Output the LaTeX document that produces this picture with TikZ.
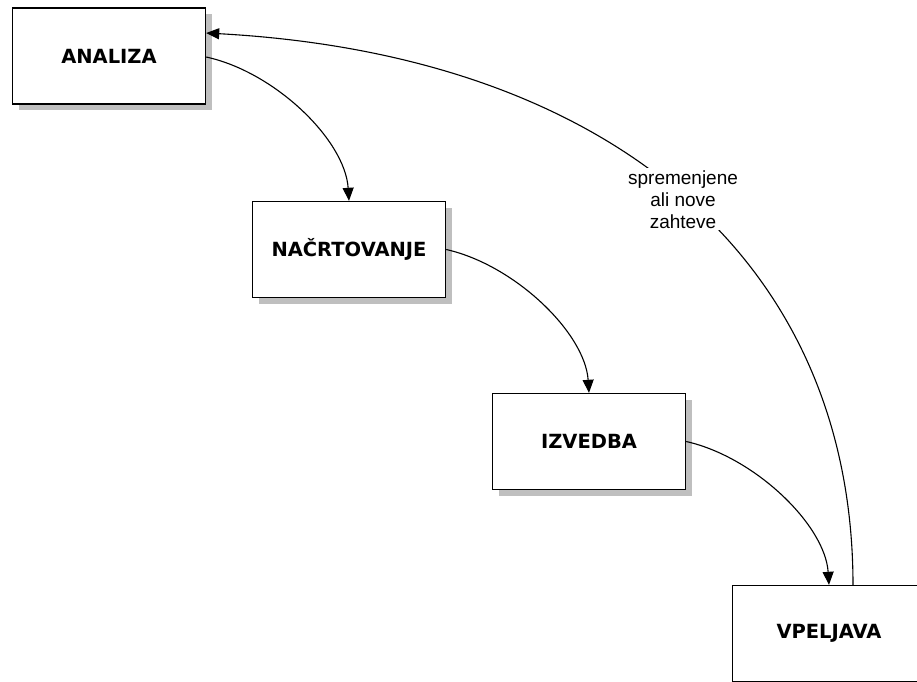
\documentclass[tikz,border=0pt]{standalone}
\usepackage{fontspec}
\setmainfont{Liberation Sans}
\newfontfamily\boxfont{DejaVu Sans}
\usetikzlibrary{arrows.meta,shadows}
\begin{document}
\begin{tikzpicture}[x=1pt,y=-1pt,
  phase/.style={draw=black, line width=1.4pt, fill=white, minimum width=193pt, minimum height=96pt,
    inner sep=0pt, font=\boxfont\bfseries\fontsize{19.5}{22}\selectfont,
    drop shadow={shadow xshift=6pt, shadow yshift=-6pt, fill=black!25, opacity=1}},
  flow/.style={line width=1.1pt, -{Triangle[length=13pt,width=11pt]}},
  note/.style={fill=white, align=center, inner sep=2pt, font=\fontsize{19}{22}\selectfont}]
  \useasboundingbox (0,0) rectangle (917,681);
  \node[phase] (analiza) at (109,56) {ANALIZA};
  \node[phase] (nacrt) at (349,249.5) {NAČRTOVANJE};
  \node[phase] (izvedba) at (589,441.5) {IZVEDBA};
  \node[phase] (vpeljava) at (829,633.5) {VPELJAVA};
  % forward steps of the process
  \draw[flow] (analiza.east |- 0,57) .. controls (275,72) and (345,140) .. (nacrt.north);
  \draw[flow] (nacrt.east) .. controls (515,265) and (585,333) .. (izvedba.north);
  \draw[flow] (izvedba.east) .. controls (755,457) and (825,525) .. (vpeljava.north);
  % feedback loop with changed requirements
  \coordinate (back) at (853,585.5);
  \draw[flow] (back) .. controls (853,260) and (610,55) .. (analiza.east |- 0,33)
    node[note, pos=0.5, yshift=-4pt, xshift=2pt] (req) {spremenjene\\ali nove\\zahteve};
\end{tikzpicture}
\end{document}
